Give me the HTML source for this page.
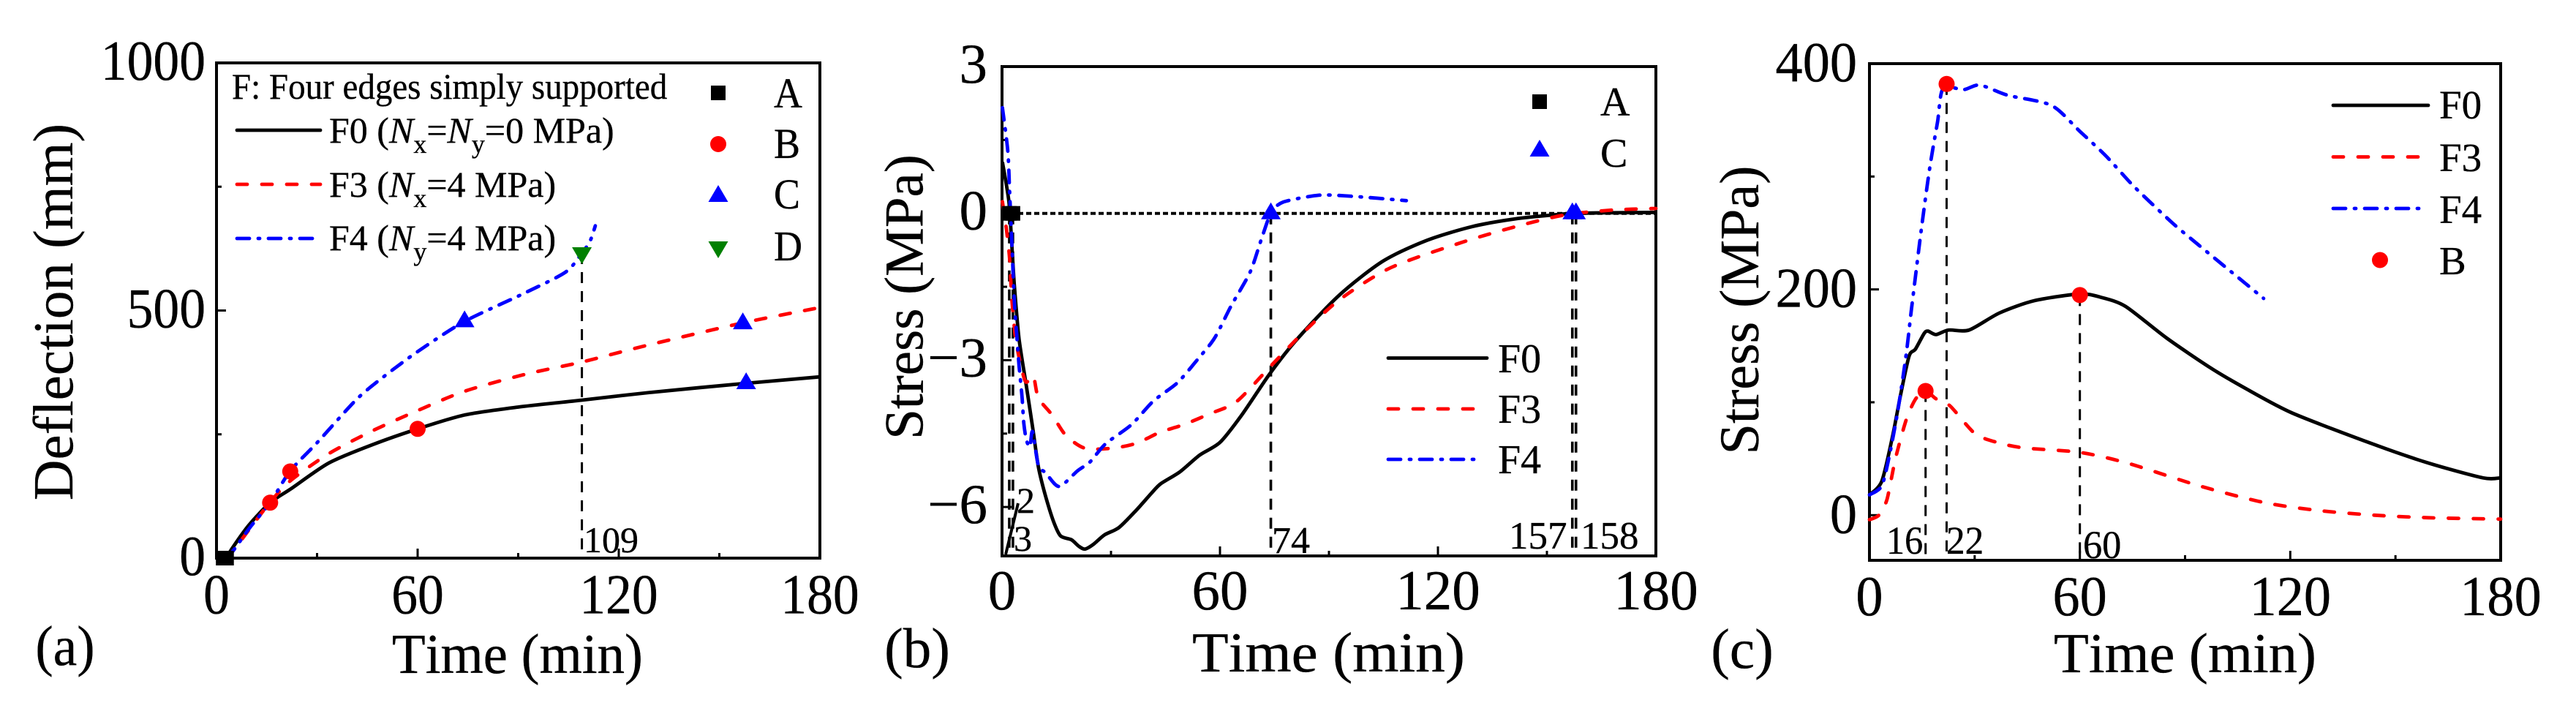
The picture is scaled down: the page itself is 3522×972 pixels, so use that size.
<!DOCTYPE html>
<html lang="en">
<head>
<meta charset="utf-8">
<title>Deflection and stress versus time</title>
<style>
html,body{margin:0;padding:0;background:#fff;}
svg{display:block;}
text{font-family:"Liberation Serif","Times New Roman",serif;fill:#000;font-kerning:none;stroke:#000;stroke-width:.35px;}
</style>
</head>
<body>
<svg id="chart" xmlns="http://www.w3.org/2000/svg" width="3522" height="972" viewBox="0 0 3522 972">
  <rect width="3522" height="972" fill="#fff"/>
  <g id="panel-a">
    <text transform="translate(89,909) scale(.95,1)" font-size="77" text-anchor="middle">(a)</text>
    <text x="536" y="920" font-size="77" textLength="343" lengthAdjust="spacingAndGlyphs">Time (min)</text>
    <text transform="translate(99,426.5) rotate(-90)" font-size="77" text-anchor="middle">Deflection (mm)</text>
    <text transform="translate(317,135) scale(.94,1)" font-size="50">F: Four edges simply supported</text>
    <text transform="translate(450,195)" font-size="50">F0 (<tspan font-style="italic">N</tspan><tspan font-size="36" dy="14">x</tspan><tspan dy="-14">=</tspan><tspan font-style="italic">N</tspan><tspan font-size="36" dy="14">y</tspan><tspan dy="-14">=0 MPa)</tspan></text>
    <text transform="translate(450,269)" font-size="50">F3 (<tspan font-style="italic">N</tspan><tspan font-size="36" dy="14">x</tspan><tspan dy="-14">=4 MPa)</tspan></text>
    <text transform="translate(450,342)" font-size="50">F4 (<tspan font-style="italic">N</tspan><tspan font-size="36" dy="14">y</tspan><tspan dy="-14">=4 MPa)</tspan></text>
    <text transform="translate(1058,147) scale(.93,1)" font-size="58">A</text>
    <text transform="translate(1058,216) scale(.93,1)" font-size="58">B</text>
    <text transform="translate(1058,285) scale(.93,1)" font-size="58">C</text>
    <text transform="translate(1058,356) scale(.93,1)" font-size="58">D</text>
    <text x="798" y="755" font-size="50">109</text>
  </g>
  <g id="panel-b">
    <text transform="translate(1254,912)" font-size="77" text-anchor="middle">(b)</text>
    <text x="1630" y="918" font-size="77" textLength="373" lengthAdjust="spacingAndGlyphs">Time (min)</text>
    <text transform="translate(1261.5,406) rotate(-90)" font-size="75" text-anchor="middle">Stress (MPa)</text>
    <text x="2188" y="158" font-size="56">A</text>
    <text x="2188" y="228" font-size="56">C</text>
    <text x="2048" y="509" font-size="56">F0</text>
    <text x="2048" y="578" font-size="56">F3</text>
    <text x="2048" y="647" font-size="56">F4</text>
    <text x="1390" y="701" font-size="50">2</text>
    <text x="1386" y="753" font-size="50">3</text>
    <text x="1739" y="756" font-size="52">74</text>
    <text x="2063" y="750" font-size="53">157</text>
    <text x="2161" y="750" font-size="53">158</text>
    <line x1="1392" y1="688" x2="1375" y2="758" stroke="#000" stroke-width="4"/>
  </g>
  <g id="panel-c">
    <text transform="translate(2382,913)" font-size="77" text-anchor="middle">(c)</text>
    <text x="2808" y="919" font-size="77" textLength="359" lengthAdjust="spacingAndGlyphs">Time (min)</text>
    <text transform="translate(2404,424) rotate(-90)" font-size="76" text-anchor="middle">Stress (MPa)</text>
    <text x="3335" y="162" font-size="55">F0</text>
    <text x="3335" y="234" font-size="55">F3</text>
    <text x="3335" y="305" font-size="55">F4</text>
    <text x="3335" y="375" font-size="55">B</text>
    <text transform="translate(2579,757) scale(.93,1)" font-size="54">16</text>
    <text transform="translate(2661,757) scale(.95,1)" font-size="54">22</text>
    <text transform="translate(2848,763) scale(.97,1)" font-size="54">60</text>
  </g>
</svg>
<script>
/* ---------- shared axis data ---------- */
const timeTicks = [0, 60, 120, 180];
const timeMinorTicks = [30, 90, 150];

/* ---------- panel (a): deflection ---------- */
const aYTicks = [0, 500, 1000];
const aYTickLabels = ['0', '500', '1000'];
const aYMinorTicks = [250, 750];
const aF0Time = [3, 4.4, 9.6, 16, 22, 33.5, 46.5, 60, 74, 90, 109, 130, 158, 180];
const aF0Value = [0, 17, 66, 112, 139, 192, 229, 261, 289, 305, 319, 335, 353, 366];
const aF3Time = [3, 5, 10, 16, 22, 33.5, 46.5, 60, 74, 92, 109, 128, 157, 180];
const aF3Value = [0, 15, 60, 113, 156, 211, 257, 298, 337, 371, 396, 429, 475, 506];
const aF4Time = [3, 5, 10, 16, 22, 30, 41.7, 49.8, 60, 74, 90.6, 104, 109, 111.5, 113];
const aF4Value = [0, 15, 62, 112, 176, 233, 320, 366, 417, 478, 531, 577, 616, 641, 671];
const aPointATime = [2, 3];
const aPointAValue = [0, 0];
const aPointBTime = [16, 22, 60];
const aPointBValue = [112, 175, 261];
const aPointCTime = [74, 157, 158];
const aPointCValue = [478, 474, 353];
const aPointDTime = [109];
const aPointDValue = [616];

/* ---------- panel (b): concrete stress ---------- */
const bYTicks = [3, 0, -3, -6];
const bYTickLabels = ['3', '0', '\u22123', '\u22126'];
const bYMinorTicks = [1.5, -1.5, -4.5];
const bF0Time = [0.1, 1.9, 2.7, 3.4, 4.7, 6.7, 8.4, 10, 11.8, 14.1, 16.1, 19.1, 21.1, 22.8, 25.2, 28.2, 32.2, 36.9, 41, 43.6, 49, 54.4, 60, 66, 73.6, 81, 93, 105, 117, 129.4, 141.4, 153.5, 157, 165, 180];
const bF0Value = [1.05, 0.24, -0.65, -1.48, -2.57, -3.53, -4.36, -5.18, -5.73, -6.28, -6.59, -6.67, -6.8, -6.86, -6.76, -6.57, -6.42, -6.07, -5.73, -5.53, -5.28, -4.94, -4.68, -4.12, -3.29, -2.59, -1.66, -0.97, -0.55, -0.27, -0.11, -0.02, 0, 0.01, 0.02];
const bF3Time = [0.1, 1.3, 2.1, 2.7, 3.9, 6.4, 8.6, 10, 13.8, 17.5, 22.8, 30.2, 36.9, 43.6, 50.3, 57, 64.5, 73.6, 82.6, 93, 107, 126.3, 141.4, 155, 168.5, 180];
const bF3Value = [0.24, -0.38, -0.93, -1.75, -2.64, -3.43, -3.32, -3.77, -4.12, -4.53, -4.8, -4.8, -4.7, -4.47, -4.31, -4.1, -3.85, -3.15, -2.46, -1.76, -1.11, -0.6, -0.27, -0.03, 0.07, 0.1];
const bF4Time = [0.1, 1.6, 2.1, 2.7, 3.4, 4, 4.7, 5.5, 6, 6.7, 7.7, 8.4, 10, 12, 15.7, 20.8, 24.2, 28.5, 35.6, 41.6, 48.3, 54, 58.5, 63, 68.3, 71.3, 74, 77.4, 87.2, 96.2, 111.3];
const bF4Value = [2.16, 1.27, 0.44, -0.58, -1.82, -2.44, -3.12, -3.74, -4.29, -4.63, -4.77, -4.46, -5.15, -5.3, -5.58, -5.26, -5.08, -4.71, -4.32, -3.84, -3.46, -2.97, -2.55, -1.9, -1.2, -0.55, 0, 0.23, 0.37, 0.35, 0.26];
const bPointATime = [2, 3];
const bPointAValue = [0, 0];
const bPointCTime = [74, 157, 158];
const bPointCValue = [0, 0, 0];

/* ---------- panel (c): steel stress ---------- */
const cYTicks = [0, 200, 400];
const cYTickLabels = ['0', '200', '400'];
const cYMinorTicks = [100, 300];
const cF0Time = [0, 3.5, 6.6, 8.9, 11.3, 13.1, 15.6, 16.7, 19, 22.5, 28.4, 37, 47, 60, 66, 73, 84.7, 97, 106.5, 120.5, 144, 159.6, 175, 180];
const cF0Value = [18, 30, 70, 107, 141, 147, 161, 163, 160, 164, 164, 179, 190, 196, 193, 185, 157, 131, 113.6, 90.6, 62.5, 46, 33, 33];
const cF3Time = [0, 2.7, 5, 7.4, 10.5, 13.1, 16, 19, 23, 30, 36.3, 44, 60, 73.7, 94, 112.8, 128.4, 144, 159.6, 180];
const cF3Value = [-4, 0, 14, 50, 84.6, 102.6, 110, 103, 96.7, 72.5, 64.5, 59.6, 55.6, 46, 26, 11, 4, 0, -2.3, -3.5];
const cF4Time = [0, 3.5, 5.8, 8.2, 10.5, 12, 14.7, 17.2, 19.4, 21, 26.9, 31.5, 39.4, 51.9, 60, 67.5, 75.3, 86.2, 94, 103.4, 112.4];
const cF4Value = [18, 26, 54.6, 94.6, 143, 183, 251, 308, 348, 378, 377, 381, 372, 363, 340, 318, 291.6, 259.4, 239, 215, 192];
const cPointBTime = [16, 22, 60];
const cPointBValue = [110, 382, 195];

const SVGNS = 'http://www.w3.org/2000/svg';
const BLACK = '#000';
const RED = '#ff0000';
const BLUE = '#0000ff';
const GREEN = '#008000';
const DASH_F3 = '14 20';
const DASH_F4 = '17 12 2 12';
const DASH_DROP = '15 11';

/* linear axis builder: maps a data domain on to a pixel range */
function scale(d0, d1, p0, p1) {
  return function (v) { return p0 + (v - d0) * (p1 - p0) / (d1 - d0); };
}

const panels = {
  a: { group: document.getElementById('panel-a'), left: 296, right: 1121, top: 86, bottom: 763,
       x: scale(0, 180, 296, 1121), y: scale(0, 1000, 763, 86),
       sx: 0.93, xLabelY: 838.5, yLabelX: 281, yLabelDy: 23 },
  b: { group: document.getElementById('panel-b'), left: 1370, right: 2264, top: 91, bottom: 760,
       x: scale(0, 180, 1370, 2264), y: scale(-7, 3, 760, 91),
       sx: 1, xLabelY: 833, yLabelX: 1350, yLabelDy: 22 },
  c: { group: document.getElementById('panel-c'), left: 2556, right: 3419, top: 87, bottom: 766,
       x: scale(0, 180, 2556, 3419), y: scale(-40, 400, 766, 87),
       sx: 0.965, xLabelY: 841, yLabelX: 2539, yLabelDy: 24 }
};

function addLine(parent, name, x1, y1, x2, y2, color, width, dash, cap) {
  const el = document.createElementNS(SVGNS, 'line');
  
  
  el.setAttribute('x1', x1);
  el.setAttribute('y1', y1);
  el.setAttribute('x2', x2);
  el.setAttribute('y2', y2);
  el.setAttribute('stroke', color);
  el.setAttribute('stroke-width', width);
  if (dash) el.setAttribute('stroke-dasharray', dash);
  if (cap) el.setAttribute('stroke-linecap', cap);
  parent.appendChild(el);
  return el;
}

function addText(parent, name, str, x, y, size, anchor, sx) {
  const el = document.createElementNS(SVGNS, 'text');
  
  
  el.setAttribute('transform', 'translate(' + x + ',' + y + ') scale(' + sx + ',1)');
  el.setAttribute('font-size', size);
  el.setAttribute('text-anchor', anchor);
  el.textContent = str;
  parent.appendChild(el);
  return el;
}

function drawAxes(p, key, yTicks, yLabels, yMinor) {
  const frame = document.createElementNS(SVGNS, 'rect');
  
  
  frame.setAttribute('x', p.left);
  frame.setAttribute('y', p.top);
  frame.setAttribute('width', p.right - p.left);
  frame.setAttribute('height', p.bottom - p.top);
  frame.setAttribute('fill', 'none');
  frame.setAttribute('stroke', BLACK);
  frame.setAttribute('stroke-width', 4);
  p.group.appendChild(frame);

  timeTicks.forEach(function (t) {
    addLine(p.group, 'x-tick-' + key + '-' + t, p.x(t), p.bottom, p.x(t), p.bottom - 13, BLACK, 3);
    addText(p.group, 'x-tick-label-' + key + '-' + t, String(t), p.x(t), p.xLabelY, 77, 'middle', p.sx);
  });
  timeMinorTicks.forEach(function (t) {
    addLine(p.group, 'x-minor-tick-' + key + '-' + t, p.x(t), p.bottom, p.x(t), p.bottom - 7, BLACK, 3);
  });
  yTicks.forEach(function (v, i) {
    addLine(p.group, 'y-tick-' + key + '-' + v, p.left, p.y(v), p.left + 13, p.y(v), BLACK, 3);
    addText(p.group, 'y-tick-label-' + key + '-' + v, yLabels[i], p.yLabelX, p.y(v) + p.yLabelDy, 77, 'end', p.sx);
  });
  yMinor.forEach(function (v) {
    addLine(p.group, 'y-minor-tick-' + key + '-' + v, p.left, p.y(v), p.left + 7, p.y(v), BLACK, 3);
  });
}

/* smooth cubic path through the mapped data points */
function curvePath(p, times, values) {
  const xs = times.map(p.x);
  const ys = values.map(p.y);
  const k = 0.13;
  let d = 'M' + xs[0].toFixed(1) + ' ' + ys[0].toFixed(1);
  for (let i = 0; i < xs.length - 1; i++) {
    const i0 = Math.max(i - 1, 0);
    const i3 = Math.min(i + 2, xs.length - 1);
    const c1x = xs[i] + (xs[i + 1] - xs[i0]) * k;
    const c1y = ys[i] + (ys[i + 1] - ys[i0]) * k;
    const c2x = xs[i + 1] - (xs[i3] - xs[i]) * k;
    const c2y = ys[i + 1] - (ys[i3] - ys[i]) * k;
    d += 'C' + c1x.toFixed(1) + ' ' + c1y.toFixed(1) + ' ' + c2x.toFixed(1) + ' ' + c2y.toFixed(1) + ' ' + xs[i + 1].toFixed(1) + ' ' + ys[i + 1].toFixed(1);
  }
  return d;
}

function drawSeries(p, name, times, values, color, dash, width) {
  const el = document.createElementNS(SVGNS, 'path');
  
  
  el.setAttribute('d', curvePath(p, times, values));
  el.setAttribute('fill', 'none');
  el.setAttribute('stroke', color);
  el.setAttribute('stroke-width', width);
  el.setAttribute('stroke-linejoin', 'round');
  if (dash) {
    el.setAttribute('stroke-dasharray', dash);
    el.setAttribute('stroke-linecap', 'round');
  }
  p.group.appendChild(el);
}

function drawMarkerAt(parent, name, kind, x, y, color) {
  let el;
  if (kind === 'circle') {
    el = document.createElementNS(SVGNS, 'circle');
    el.setAttribute('cx', x);
    el.setAttribute('cy', y);
    el.setAttribute('r', 11);
  } else if (kind === 'square') {
    el = document.createElementNS(SVGNS, 'rect');
    el.setAttribute('x', x - 10);
    el.setAttribute('y', y - 10);
    el.setAttribute('width', 20);
    el.setAttribute('height', 20);
  } else if (kind === 'up') {
    el = document.createElementNS(SVGNS, 'polygon');
    el.setAttribute('points', x + ',' + (y - 15) + ' ' + (x - 13.5) + ',' + (y + 8) + ' ' + (x + 13.5) + ',' + (y + 8));
  } else {
    el = document.createElementNS(SVGNS, 'polygon');
    el.setAttribute('points', x + ',' + (y + 15) + ' ' + (x - 13.5) + ',' + (y - 8) + ' ' + (x + 13.5) + ',' + (y - 8));
  }
  
  
  el.setAttribute('fill', color);
  parent.appendChild(el);
}

function drawMarkers(p, name, kind, times, values, color) {
  times.forEach(function (t, i) {
    drawMarkerAt(p.group, name + '-' + (i + 1), kind, p.x(t), p.y(values[i]), color);
  });
}

function drawDrops(p, key, times, values) {
  times.forEach(function (t, i) {
    addLine(p.group, 'drop-line-' + key + '-' + t, p.x(t), p.y(values[i]), p.x(t), p.bottom, BLACK, key === 'b' ? 3.6 : 3, DASH_DROP);
  });
}

/* legend swatches */
function legendSwatch(parent, name, x1, x2, y, color, dash) {
  addLine(parent, name, x1, y, x2, y, color, 4.8, dash, 'round');
}

/* panel a */
const pa = panels.a;
drawAxes(pa, 'a', aYTicks, aYTickLabels, aYMinorTicks);
drawDrops(pa, 'a', aPointDTime, aPointDValue);
drawSeries(pa, 'series-f0-deflection', aF0Time, aF0Value, BLACK, null, 4.8);
drawSeries(pa, 'series-f3-deflection', aF3Time, aF3Value, RED, DASH_F3, 4.8);
drawSeries(pa, 'series-f4-deflection', aF4Time, aF4Value, BLUE, DASH_F4, 4.8);
drawMarkers(pa, 'point-a-deflection', 'square', aPointATime, aPointAValue, BLACK);
drawMarkers(pa, 'point-b-deflection', 'circle', aPointBTime, aPointBValue, RED);
drawMarkers(pa, 'point-c-deflection', 'up', aPointCTime, aPointCValue, BLUE);
drawMarkers(pa, 'point-d-deflection', 'down', aPointDTime, aPointDValue, GREEN);
legendSwatch(pa.group, 'legend-line-f0-a', 324, 438, 178, BLACK, null);
legendSwatch(pa.group, 'legend-line-f3-a', 324, 438, 252, RED, DASH_F3);
legendSwatch(pa.group, 'legend-line-f4-a', 324, 430, 326, BLUE, DASH_F4);
drawMarkerAt(pa.group, 'legend-marker-a-a', 'square', 982, 127, BLACK);
drawMarkerAt(pa.group, 'legend-marker-b-a', 'circle', 982, 197, RED);
drawMarkerAt(pa.group, 'legend-marker-c-a', 'up', 982, 268, BLUE);
drawMarkerAt(pa.group, 'legend-marker-d-a', 'down', 982, 338, GREEN);

/* panel b */
const pb = panels.b;
drawAxes(pb, 'b', bYTicks, bYTickLabels, bYMinorTicks);
addLine(pb.group, 'zero-stress-line', pb.x(0), pb.y(0), pb.x(180), pb.y(0), BLACK, 4, '7 4');
drawDrops(pb, 'b', bPointATime, bPointAValue);
drawDrops(pb, 'b', bPointCTime, bPointCValue);
drawSeries(pb, 'series-f0-stress-b', bF0Time, bF0Value, BLACK, null, 4.8);
drawSeries(pb, 'series-f3-stress-b', bF3Time, bF3Value, RED, DASH_F3, 4.8);
drawSeries(pb, 'series-f4-stress-b', bF4Time, bF4Value, BLUE, DASH_F4, 4.8);
drawMarkers(pb, 'point-a-stress-b', 'square', bPointATime, bPointAValue, BLACK);
drawMarkers(pb, 'point-c-stress-b', 'up', bPointCTime, bPointCValue, BLUE);
legendSwatch(pb.group, 'legend-line-f0-b', 1898, 2033, 489.5, BLACK, null);
legendSwatch(pb.group, 'legend-line-f3-b', 1898, 2024, 559, RED, DASH_F3);
legendSwatch(pb.group, 'legend-line-f4-b', 1898, 2024, 628, BLUE, DASH_F4);
drawMarkerAt(pb.group, 'legend-marker-a-b', 'square', 2105, 139, BLACK);
drawMarkerAt(pb.group, 'legend-marker-c-b', 'up', 2105, 206, BLUE);

/* panel c */
const pc = panels.c;
drawAxes(pc, 'c', cYTicks, cYTickLabels, cYMinorTicks);
drawDrops(pc, 'c', cPointBTime, cPointBValue);
drawSeries(pc, 'series-f0-stress-c', cF0Time, cF0Value, BLACK, null, 4.8);
drawSeries(pc, 'series-f3-stress-c', cF3Time, cF3Value, RED, DASH_F3, 4.8);
drawSeries(pc, 'series-f4-stress-c', cF4Time, cF4Value, BLUE, DASH_F4, 4.8);
drawMarkers(pc, 'point-b-stress-c', 'circle', cPointBTime, cPointBValue, RED);
legendSwatch(pc.group, 'legend-line-f0-c', 3190, 3320, 144, BLACK, null);
legendSwatch(pc.group, 'legend-line-f3-c', 3190, 3312, 214.5, RED, DASH_F3);
legendSwatch(pc.group, 'legend-line-f4-c', 3190, 3312, 285, BLUE, DASH_F4);
drawMarkerAt(pc.group, 'legend-marker-b-c', 'circle', 3254, 355.5, RED);
</script>
</body>
</html>
